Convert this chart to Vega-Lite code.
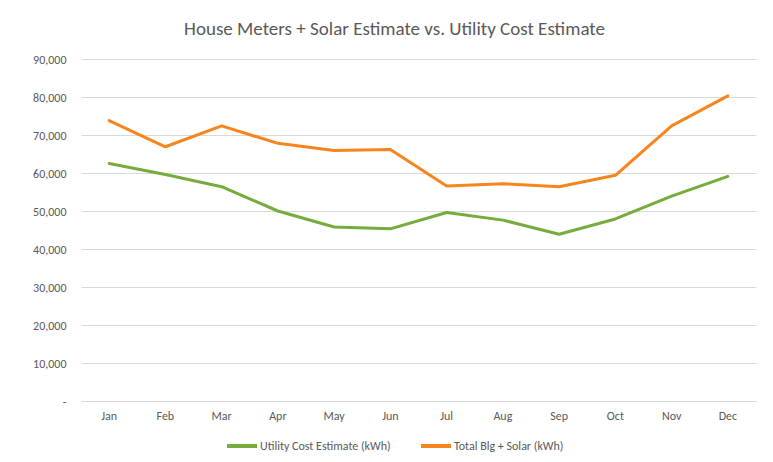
{
  "$schema": "https://vega.github.io/schema/vega-lite/v6.json",
  "width": 675,
  "height": 342,
  "autosize": {"type": "none"},
  "padding": {"left": 81, "top": 59, "right": 17, "bottom": 61},
  "background": "white",
  "title": {
    "text": "House Meters + Solar Estimate vs. Utility Cost Estimate",
    "anchor": "middle",
    "dx": -24,
    "fontSize": 19,
    "fontWeight": "normal",
    "color": "#595959",
    "font": "Carlito, Liberation Sans Narrow, Open Sans, sans-serif",
    "offset": 14
  },
  "data": {
    "values": [
      {"month": "Jan", "series": "Utility Cost Estimate (kWh)", "kwh": 62500},
      {"month": "Feb", "series": "Utility Cost Estimate (kWh)", "kwh": 59600},
      {"month": "Mar", "series": "Utility Cost Estimate (kWh)", "kwh": 56400},
      {"month": "Apr", "series": "Utility Cost Estimate (kWh)", "kwh": 50000},
      {"month": "May", "series": "Utility Cost Estimate (kWh)", "kwh": 45800},
      {"month": "Jun", "series": "Utility Cost Estimate (kWh)", "kwh": 45300},
      {"month": "Jul", "series": "Utility Cost Estimate (kWh)", "kwh": 49600},
      {"month": "Aug", "series": "Utility Cost Estimate (kWh)", "kwh": 47600},
      {"month": "Sep", "series": "Utility Cost Estimate (kWh)", "kwh": 43900},
      {"month": "Oct", "series": "Utility Cost Estimate (kWh)", "kwh": 47900},
      {"month": "Nov", "series": "Utility Cost Estimate (kWh)", "kwh": 53900},
      {"month": "Dec", "series": "Utility Cost Estimate (kWh)", "kwh": 59100},
      {"month": "Jan", "series": "Total Blg + Solar (kWh)", "kwh": 73800},
      {"month": "Feb", "series": "Total Blg + Solar (kWh)", "kwh": 66900},
      {"month": "Mar", "series": "Total Blg + Solar (kWh)", "kwh": 72400},
      {"month": "Apr", "series": "Total Blg + Solar (kWh)", "kwh": 67800},
      {"month": "May", "series": "Total Blg + Solar (kWh)", "kwh": 65900},
      {"month": "Jun", "series": "Total Blg + Solar (kWh)", "kwh": 66200},
      {"month": "Jul", "series": "Total Blg + Solar (kWh)", "kwh": 56600},
      {"month": "Aug", "series": "Total Blg + Solar (kWh)", "kwh": 57200},
      {"month": "Sep", "series": "Total Blg + Solar (kWh)", "kwh": 56400},
      {"month": "Oct", "series": "Total Blg + Solar (kWh)", "kwh": 59400},
      {"month": "Nov", "series": "Total Blg + Solar (kWh)", "kwh": 72400},
      {"month": "Dec", "series": "Total Blg + Solar (kWh)", "kwh": 80300}
    ]
  },
  "mark": {"type": "line", "strokeWidth": 3, "strokeCap": "round", "strokeJoin": "round"},
  "encoding": {
    "x": {
      "field": "month",
      "type": "ordinal",
      "sort": ["Jan","Feb","Mar","Apr","May","Jun","Jul","Aug","Sep","Oct","Nov","Dec"],
      "scale": {"type": "band", "paddingInner": 0, "paddingOuter": 0},
      "axis": {
        "title": null,
        "labelAngle": 0,
        "ticks": false,
        "domain": true,
        "domainColor": "#d9d9d9",
        "domainWidth": 1,
        "grid": false,
        "labelPadding": 9,
        "labelFontSize": 12,
        "labelColor": "#595959",
        "labelFont": "Carlito, Liberation Sans Narrow, Open Sans, sans-serif"
      }
    },
    "y": {
      "field": "kwh",
      "type": "quantitative",
      "scale": {"domain": [0, 90000], "nice": false},
      "axis": {
        "title": null,
        "values": [0,10000,20000,30000,40000,50000,60000,70000,80000,90000],
        "labelExpr": "datum.value == 0 ? '-' : format(datum.value, ',')",
        "ticks": false,
        "domain": false,
        "grid": true,
        "gridColor": "#d9d9d9",
        "gridWidth": 1,
        "labelPadding": 15,
        "labelFontSize": 12,
        "labelColor": "#595959",
        "labelFont": "Carlito, Liberation Sans Narrow, Open Sans, sans-serif"
      }
    },
    "color": {
      "field": "series",
      "type": "nominal",
      "scale": {
        "domain": ["Utility Cost Estimate (kWh)", "Total Blg + Solar (kWh)"],
        "range": ["#77AB3D", "#F7851E"]
      },
      "legend": {
        "title": null,
        "orient": "none",
        "legendX": 144,
        "legendY": 370,
        "direction": "horizontal",
        "symbolType": "stroke",
        "symbolStrokeWidth": 4,
        "symbolSize": 900,
        "symbolOffset": 0,
        "labelOffset": 1,
        "labelFontSize": 12,
        "labelColor": "#595959",
        "labelFont": "Carlito, Liberation Sans Narrow, Open Sans, sans-serif",
        "columnPadding": 22
      }
    }
  },
  "config": {
    "view": {"stroke": null}
  }
}
